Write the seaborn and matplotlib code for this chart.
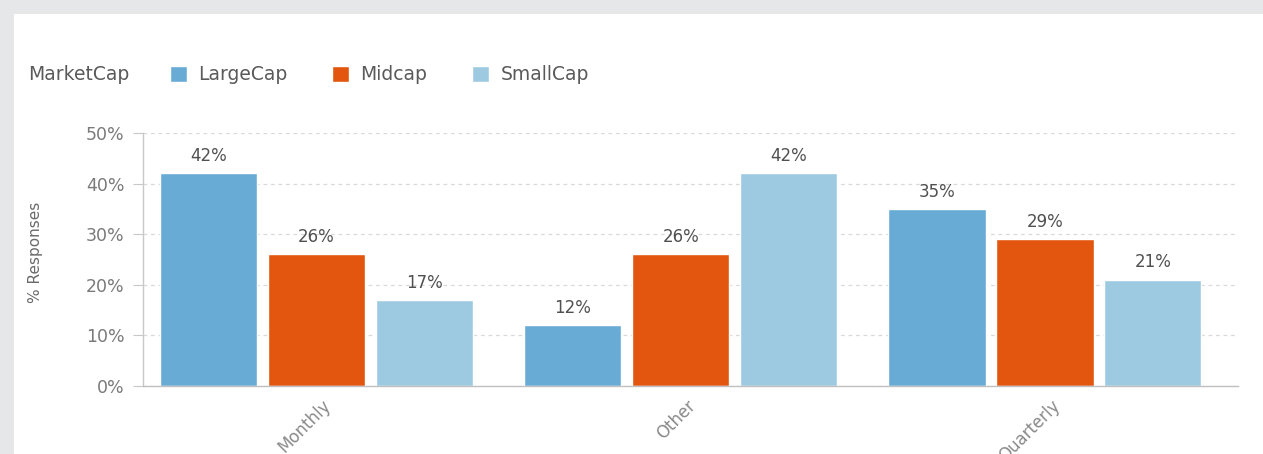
import matplotlib
matplotlib.use("Agg")
import matplotlib.pyplot as plt
from matplotlib.patches import Rectangle
from matplotlib.transforms import ScaledTranslation
import seaborn as sns
import pandas as pd

# Survey results: share of responses per reporting frequency and market cap
categories = ["Monthly", "Other", "Quarterly"]
series_names = ["LargeCap", "Midcap", "SmallCap"]
large_cap = [42, 12, 35]
mid_cap = [26, 26, 29]
small_cap = [17, 42, 21]
y_ticks = [0, 10, 20, 30, 40, 50]

colors = ["#68acd5", "#e3560f", "#9ecae1"]

rows = []
for name, vals in zip(series_names, [large_cap, mid_cap, small_cap]):
    for cat, v in zip(categories, vals):
        rows.append({"Frequency": cat, "MarketCap": name, "Pct": v})
df = pd.DataFrame(rows)

sns.set_theme(style="white")
plt.rcParams["font.family"] = ["DejaVu Sans"]

W, H = 1263, 454
fig = plt.figure(figsize=(W / 100, H / 100), dpi=100, facecolor="#e6e7e9")
# white card behind the chart
fig.patches.append(Rectangle((14 / W, 0), 1 - 14 / W, (H - 14) / H,
                             transform=fig.transFigure, facecolor="white",
                             edgecolor="none", zorder=-10))

ax = fig.add_axes([143 / W, (H - 386) / H, (1238 - 143) / W, (386 - 133) / H])
ax.set_facecolor("none")
ax.set_axisbelow(True)

sns.barplot(data=df, x="Frequency", y="Pct", hue="MarketCap",
            order=categories, hue_order=series_names, palette=colors,
            saturation=1, errorbar=None, width=0.889, gap=0.1, ax=ax)

for cont in ax.containers:
    ax.bar_label(cont, fmt="{:.0f}%", padding=6, fontsize=12,
                 color="#505050")

ax.set_ylim(0, 50)
ax.set_xlim(-0.476, 2.53)
ax.set_yticks(y_ticks)
ax.set_yticklabels([f"{t}%" for t in y_ticks])
ax.tick_params(axis="y", which="major", left=True, length=7.5, width=0.8,
               color="#c8c8c8", labelsize=12.5, labelcolor="#7a7a7a", pad=6)
ax.tick_params(axis="x", length=0, labelsize=12, labelcolor="#8a8a8a", pad=12)
shift = ScaledTranslation(12 / 100, 0, fig.dpi_scale_trans)
for lab in ax.get_xticklabels():
    lab.set_rotation(45)
    lab.set_rotation_mode("anchor")
    lab.set_ha("right")
    lab.set_va("center")
    lab.set_transform(lab.get_transform() + shift)

ax.yaxis.grid(True, linestyle=(0, (3, 3)), color="#d9d9d9", linewidth=0.9)
ax.xaxis.grid(False)
for side in ["top", "right"]:
    ax.spines[side].set_visible(False)
ax.spines["left"].set_color("#c8c8c8")
ax.spines["bottom"].set_color("#c0c0c0")
ax.spines["left"].set_linewidth(1.0)
ax.spines["bottom"].set_linewidth(1.0)

ax.set_xlabel("")
ax.set_ylabel("% Responses", fontsize=11, color="#6a6a6a")
ax.yaxis.set_label_coords(-0.0913, 0.53)

handles, labels = ax.get_legend_handles_labels()
ax.get_legend().remove()
fig.text(28 / W, (H - 75) / H, "MarketCap", fontsize=13.5, color="#5a5a5a",
         va="center", ha="left")
fig.legend(handles, labels, loc="center left",
           bbox_to_anchor=(170 / W, (H - 75) / H), ncol=3, frameon=False,
           fontsize=13.5, labelcolor="#5a5a5a", handlelength=0.9,
           handleheight=0.9, handletextpad=0.6, columnspacing=2.4,
           borderpad=0, borderaxespad=0)

fig.savefig("out.png", dpi=100, facecolor=fig.get_facecolor())
